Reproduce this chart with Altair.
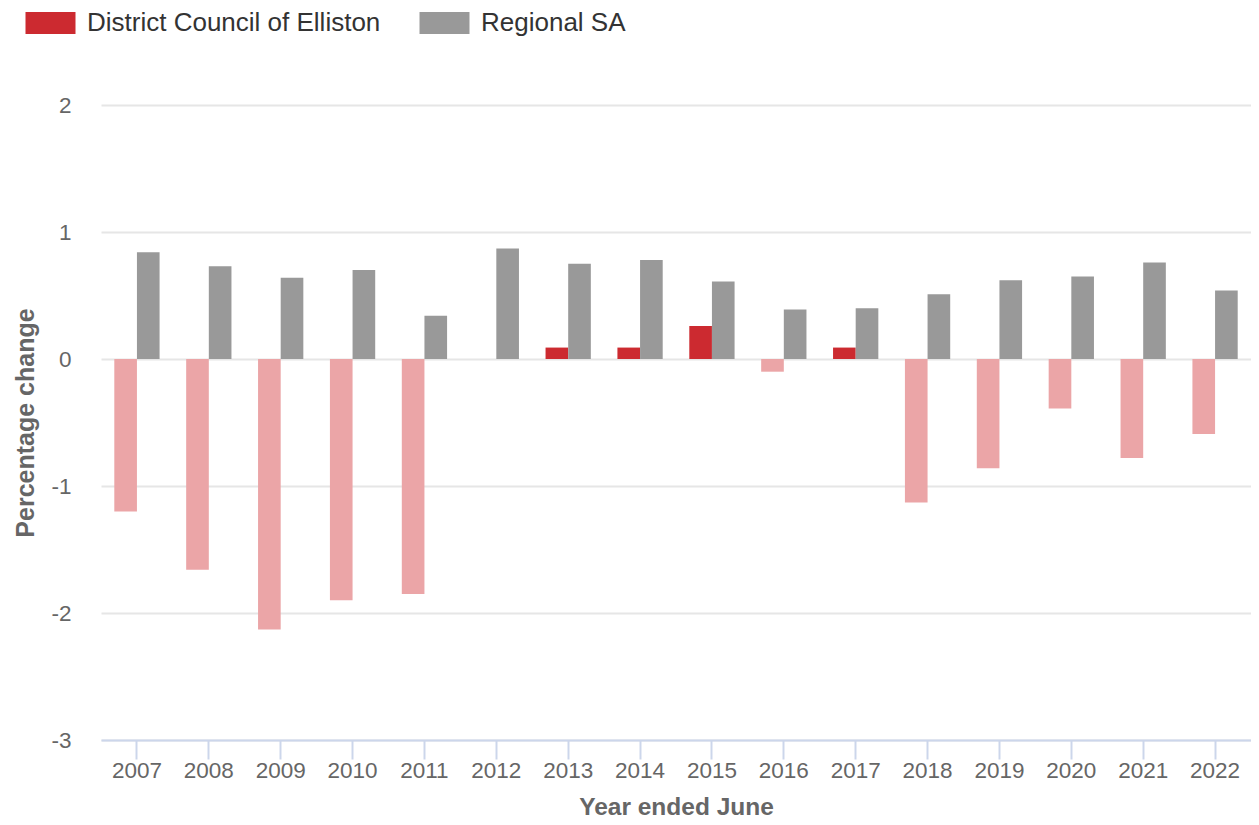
import altair as alt
import pandas as pd

years = [str(y) for y in range(2007, 2023)]
district = [-1.20, -1.66, -2.13, -1.90, -1.85, 0.0, 0.09, 0.09, 0.26, -0.10, 0.09, -1.13, -0.86, -0.39, -0.78, -0.59]
regional = [0.84, 0.73, 0.64, 0.70, 0.34, 0.87, 0.75, 0.78, 0.61, 0.39, 0.40, 0.51, 0.62, 0.65, 0.76, 0.54]
series_names = ["District Council of Elliston", "Regional SA"]

rows = []
for y, d, r in zip(years, district, regional):
    rows.append({"year": y, "series": series_names[0], "value": d})
    rows.append({"year": y, "series": series_names[1], "value": r})
df = pd.DataFrame(rows)

FONT = "Liberation Sans"

chart = alt.Chart(df).mark_bar().encode(
    x=alt.X("year:N", title="Year ended June",
            scale=alt.Scale(paddingInner=0.37, paddingOuter=0.185),
            axis=alt.Axis(labelAngle=0, labelFontSize=22.5, labelColor="#666666",
                          domainColor="#ccd6eb", domainWidth=2, tickColor="#ccd6eb",
                          tickWidth=2, tickSize=19,
                          labelPadding=0, titleFontSize=24.5, titleColor="#666666",
                          titleFontWeight="bold", titlePadding=14, grid=False)),
    xOffset=alt.XOffset("series:N", sort=series_names,
                        scale=alt.Scale(paddingInner=0, paddingOuter=0)),
    y=alt.Y("value:Q", title="Percentage change",
            scale=alt.Scale(domain=[-3, 2], nice=False),
            axis=alt.Axis(values=[-3, -2, -1, 0, 1, 2], ticks=False, domain=False,
                          labelExpr="datum.value + ''",
                          labelFontSize=22.5, labelColor="#666666", labelPadding=30,
                          gridColor="#e6e6e6", gridWidth=2,
                          titleFontSize=25, titleColor="#666666", titleFontWeight="bold",
                          titlePadding=12)),
    color=alt.condition(
        (alt.datum.value < 0) & (alt.datum.series == series_names[0]),
        alt.value("#eba5a7"),
        alt.Color("series:N", sort=series_names,
                  scale=alt.Scale(domain=series_names, range=["#cc2a30", "#999999"]),
                  legend=alt.Legend(title=None, orient="none", direction="horizontal",
                                    legendX=-63.5, legendY=-95,
                                    symbolType="M-2,-0.88H2V0.88H-2Z", symbolSize=625,
                                    symbolStrokeWidth=0, symbolOpacity=1,
                                    labelFontSize=26, labelColor="#333333",
                                    labelOffset=23.5, columnPadding=39,
                                    labelLimit=500)),
    ),
).properties(
    width=1150, height=635,
    padding={"left": 5, "top": 2, "right": 0, "bottom": 0},
).configure(font=FONT).configure_view(strokeWidth=0)

chart.save("out.html", embed_options={"renderer": "svg", "actions": False})
